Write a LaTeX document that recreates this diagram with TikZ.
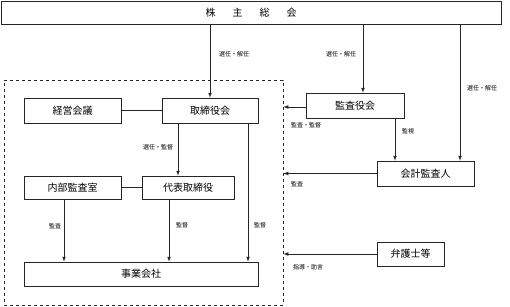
\documentclass[tikz,border=0pt]{standalone}
\usepackage{fontspec}
\setmainfont{Noto Sans CJK JP}
\begin{document}
\begin{tikzpicture}[x=1pt,y=-1pt,
box/.style={draw=black!85,line width=0.7pt,inner sep=0pt,font=\fontsize{10}{12}\selectfont},
lbl/.style={inner sep=0pt,font=\fontsize{6}{7}\selectfont},
arr/.style={-latex,line width=0.7pt,draw=black!85}]

\useasboundingbox (0,0) rectangle (510,306);

% 株主総会
\node[box,minimum width=500,minimum height=23]
(S) at (251,12.5)
{株\hskip17pt 主\hskip17pt 総\hskip17pt 会};

% Groupe (pointillé)
\node[draw=black!85,dashed,line width=0.7pt,
minimum width=279,minimum height=225,inner sep=0pt]
(G) at (143.5,192.5) {};

% Boîtes
\node[box,minimum width=96,minimum height=25] (B) at (210,110.5) {取締役会};
\node[box,minimum width=97,minimum height=25] (K) at (72.5,110.5) {経営会議};
\node[box,minimum width=97,minimum height=23] (N) at (72.5,187.5) {内部監査室};
\node[box,minimum width=92,minimum height=23] (D) at (188,187.5) {代表取締役};
\node[box,minimum width=234,minimum height=24] (J) at (141,274) {事業会社};
\node[box,minimum width=98,minimum height=25] (A) at (355,105.5) {監査役会};
\node[box,minimum width=97,minimum height=25] (C) at (425.5,173.5) {会計監査人};
\node[box,minimum width=67,minimum height=24] (L) at (410.5,254) {弁護士等};

% Points d'attache
\coordinate (a1) at ([xshift=8]A.north);
\coordinate (c1) at ([xshift=34.5]C.north);
\coordinate (b1) at ([xshift=-32]B.south);
\coordinate (b2) at ([xshift=38]B.south);
\coordinate (n1) at ([xshift=-8.5]N.south);
\coordinate (d1) at ([xshift=-19]D.south);
\coordinate (a2) at ([xshift=40]A.south);
\coordinate (a3) at ([yshift=-1.5]A.west);

% Flèches depuis 株主総会
\draw[arr] (S.south -| B.north) -- (B.north);
\draw[arr] (S.south -| a1) -- (a1);
\draw[arr] (S.south -| c1) -- (c1);

% Liaisons internes
\draw[line width=0.7pt,draw=black!85] (K.east |- B.west) -- (B.west);
\draw[line width=0.7pt,draw=black!85] (N.east |- D.west) -- (D.west);
\draw[arr] (b1) -- (b1 |- D.north);
\draw[arr] (b2) -- (b2 |- J.north);
\draw[arr] (n1) -- (n1 |- J.north);
\draw[arr] (d1) -- (d1 |- J.north);

% Flèches vers le groupe
\draw[arr] (a3) -- (a3 -| G.east);
\draw[arr] (a2) -- (a2 |- C.north);
\draw[arr] (C.west) -- (C.west -| G.east);
\draw[arr] (L.west) -- (L.west -| G.east);

% Textes
\node[lbl] (l1) at (234,54) {選任・解任};
\node[lbl] (l2) at (341,54) {選任・解任};
\node[lbl] (l3) at (482,88) {選任・解任};
\node[lbl] (l4) at (158,147) {選任・監督};
\node[lbl] (l5) at (306,125) {監査・監督};
\node[lbl] (l6) at (408,131) {監視};
\node[lbl] (l7) at (297,184) {監査};
\node[lbl] (l8) at (55,226) {監査};
\node[lbl] (l9) at (182,225) {監督};
\node[lbl] (l10) at (260,225) {監督};
\node[lbl] (l11) at (308,267) {指導・助言};

\end{tikzpicture}
\end{document}
